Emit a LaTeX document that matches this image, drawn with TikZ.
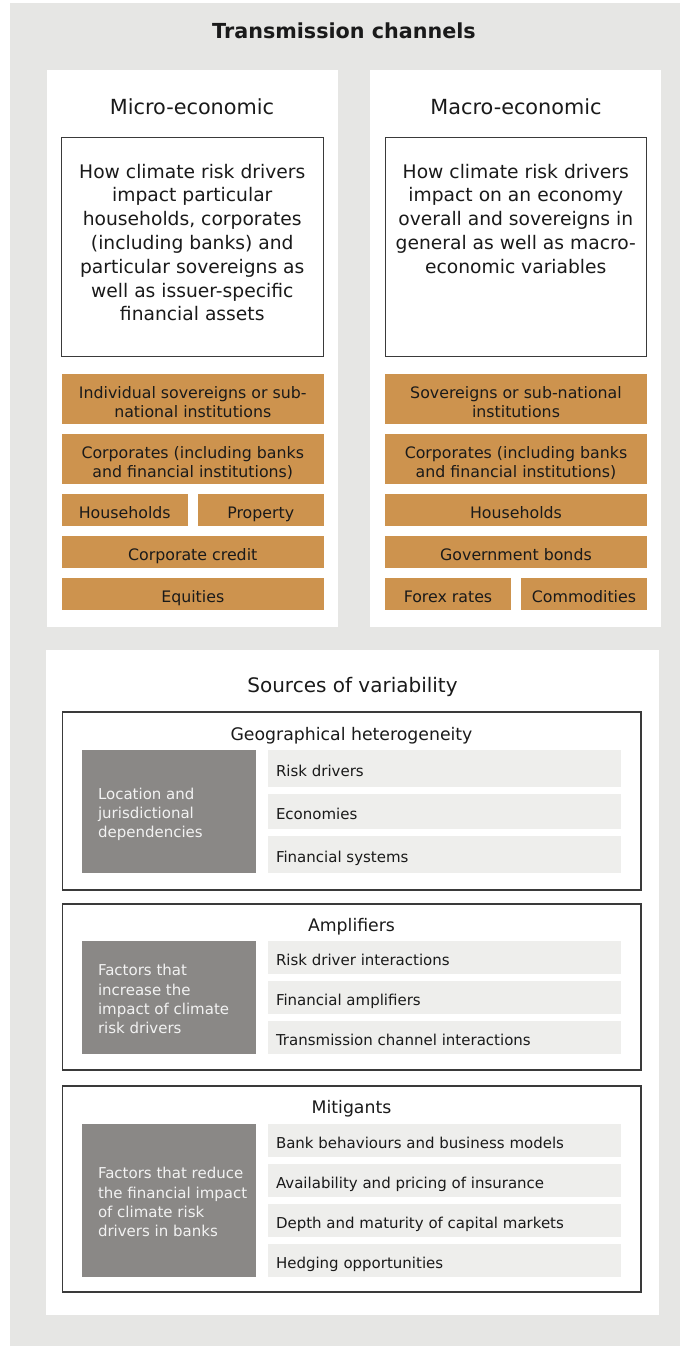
\documentclass[tikz,border=0pt]{standalone}
\usepackage{fontspec}
\setmainfont{DejaVu Sans}
\definecolor{bggray}{HTML}{E6E6E4}
\definecolor{ochre}{HTML}{CD934E}
\definecolor{darkbox}{HTML}{8A8886}
\definecolor{lightitem}{HTML}{EEEEEC}
\definecolor{border}{HTML}{3A3A3A}
\definecolor{txt}{HTML}{1A1A1A}
\definecolor{darktxt}{HTML}{F2F2F2}
% centred / left-aligned line stacks, baseline = last line
\newcommand\CL[2]{\vbox{\baselineskip=#1\relax\lineskiplimit=-\maxdimen\let\\\cr\halign{\hfil##\hfil\cr#2\crcr}}}
\newcommand\LLn[2]{\vbox{\baselineskip=#1\relax\lineskiplimit=-\maxdimen\let\\\cr\halign{##\hfil\cr#2\crcr}}}
\newcommand\fTitle{\fontsize{20.7pt}{24pt}\selectfont\bfseries}
\newcommand\fHead{\fontsize{20.8pt}{24pt}\selectfont}
\newcommand\fHeadB{\fontsize{20pt}{24pt}\selectfont}
\newcommand\fSub{\fontsize{17.3pt}{21pt}\selectfont}
\newcommand\fBody{\fontsize{18.7pt}{23.8pt}\selectfont}
\newcommand\fOch{\fontsize{15.8pt}{19pt}\selectfont}
\newcommand\fItem{\fontsize{15pt}{19.4pt}\selectfont}
\tikzset{
  every node/.style={inner sep=0pt, outer sep=0pt},
  bgbox/.style={fill=bggray, draw=none, rectangle},
  panel/.style={fill=white, draw=none, rectangle},
  titletext/.style={font=\fTitle, text=txt},
  headtext/.style={font=\fHead, text=txt},
  headtextb/.style={font=\fHeadB, text=txt},
  subtext/.style={font=\fSub, text=txt},
  tbox/.style={rectangle, draw=border, line width=1pt, fill=white, font=\fBody, text=txt, text depth=0pt},
  obox/.style={rectangle, fill=ochre, draw=none, font=\fOch, text=txt, text depth=0pt},
  gbox/.style={rectangle, draw=border, line width=1.1pt, fill=white},
  dbox/.style={rectangle, fill=darkbox, draw=none, font=\fItem, text=darktxt, text depth=0pt},
  ibox/.style={rectangle, fill=lightitem, draw=none, font=\fItem, text=txt, text depth=0pt, text height=16pt, minimum width=353.3pt},
}
\begin{document}
\begin{tikzpicture}[x=1pt,y=-1pt]
\useasboundingbox (0,0) rectangle (680,1346);
\fill[white] (0,0) rectangle (680,1346);
\node[bgbox, minimum width=670pt, minimum height=1343pt] (bg) at (345,674.5) {};
\node[titletext, anchor=base] (title) at (344,39) {Transmission channels};

% upper panels
\node[panel, minimum width=291pt, minimum height=557pt] (micro) at (192.5,348.5) {};
\node[panel, minimum width=291pt, minimum height=557pt] (macro) at (515.5,348.5) {};
\node[headtext, anchor=base] (microh) at (192,114.5) {Micro-economic};
\node[headtext, anchor=base] (macroh) at (516,114.5) {Macro-economic};
\node[tbox, minimum width=262.5pt, minimum height=219.5pt, text height=148.1pt] (microtxt) at (192.25,246.75)
  {\CL{23.8pt}{How climate risk drivers\\impact particular\\households, corporates\\(including banks) and\\particular sovereigns as\\well as issuer-specific\\financial assets}};
\node[tbox, minimum width=261.5pt, minimum height=219.5pt, text height=52.9pt] (macrotxt) at (515.75,246.75)
  {\CL{23.8pt}{How climate risk drivers\\impact on an economy\\overall and sovereigns in\\general as well as macro-\\economic variables}};

% ochre boxes, micro
\node[obox, minimum width=261.5pt, minimum height=50pt, text height=37pt] (o1) at (192.75,399)
  {\CL{19pt}{Individual sovereigns or sub-\\national institutions}};
\node[obox, minimum width=261.5pt, minimum height=50pt, text height=37pt] (o2) at (192.75,459)
  {\CL{19pt}{Corporates (including banks\\and financial institutions)}};
\node[obox, minimum width=125.5pt, minimum height=32pt, text height=17pt] (o3a) at (124.75,510) {Households};
\node[obox, minimum width=125.5pt, minimum height=32pt, text height=17pt] (o3b) at (260.75,510) {Property};
\node[obox, minimum width=261.5pt, minimum height=32pt, text height=17pt] (o4) at (192.75,552) {Corporate credit};
\node[obox, minimum width=261.5pt, minimum height=32pt, text height=17pt] (o5) at (192.75,594) {Equities};

% ochre boxes, macro
\node[obox, minimum width=262pt, minimum height=50pt, text height=37pt] (p1) at (516,399)
  {\CL{19pt}{Sovereigns or sub-national\\institutions}};
\node[obox, minimum width=262pt, minimum height=50pt, text height=37pt] (p2) at (516,459)
  {\CL{19pt}{Corporates (including banks\\and financial institutions)}};
\node[obox, minimum width=262pt, minimum height=32pt, text height=17pt] (p3) at (516,510) {Households};
\node[obox, minimum width=262pt, minimum height=32pt, text height=17pt] (p4) at (516,552) {Government bonds};
\node[obox, minimum width=126pt, minimum height=32pt, text height=17pt] (p5a) at (448,594) {Forex rates};
\node[obox, minimum width=126pt, minimum height=32pt, text height=17pt] (p5b) at (584,594) {Commodities};

% sources of variability
\node[panel, minimum width=613pt, minimum height=664.5pt] (src) at (352.5,982.25) {};
\node[headtextb, anchor=base] (srch) at (352.5,692) {Sources of variability};

% geographical heterogeneity
\node[gbox, minimum width=578.5pt, minimum height=178pt] (geo) at (351.75,801) {};
\node[subtext, anchor=base] (geoh) at (351.5,740) {Geographical heterogeneity};
\node[dbox, minimum width=173.5pt, minimum height=122.5pt, text height=53.3pt] (geod) at (168.75,811.25)
  {\makebox[141.5pt][l]{\LLn{19.4pt}{Location and\\jurisdictional\\dependencies}}};
\node[ibox, minimum height=36.5pt] (geo1) at (444.65,768.25) {\makebox[337.3pt][l]{Risk drivers}};
\node[ibox, minimum height=35pt] (geo2) at (444.65,811.5) {\makebox[337.3pt][l]{Economies}};
\node[ibox, minimum height=36.5pt] (geo3) at (444.65,854.25) {\makebox[337.3pt][l]{Financial systems}};

% amplifiers
\node[gbox, minimum width=578.5pt, minimum height=166pt] (amp) at (351.75,987) {};
\node[subtext, anchor=base] (amph) at (351.5,931) {Amplifiers};
\node[dbox, minimum width=173.5pt, minimum height=113pt, text height=72.7pt] (ampd) at (168.75,997.5)
  {\makebox[141.5pt][l]{\LLn{19.4pt}{Factors that\\increase the\\impact of climate\\risk drivers}}};
\node[ibox, minimum height=33pt] (amp1) at (444.65,957.5) {\makebox[337.3pt][l]{Risk driver interactions}};
\node[ibox, minimum height=33pt] (amp2) at (444.65,997.5) {\makebox[337.3pt][l]{Financial amplifiers}};
\node[ibox, minimum height=33pt] (amp3) at (444.65,1037.5) {\makebox[337.3pt][l]{Transmission channel interactions}};

% mitigants
\node[gbox, minimum width=578.5pt, minimum height=206pt] (mit) at (351.75,1189) {};
\node[subtext, anchor=base] (mith) at (351.5,1113) {Mitigants};
\node[dbox, minimum width=173.5pt, minimum height=153pt, text height=72.7pt] (mitd) at (168.75,1200.5)
  {\makebox[141.5pt][l]{\LLn{19.4pt}{Factors that reduce\\the financial impact\\of climate risk\\drivers in banks}}};
\node[ibox, minimum height=33pt] (mit1) at (444.65,1140) {\makebox[337.3pt][l]{Bank behaviours and business models}};
\node[ibox, minimum height=33pt] (mit2) at (444.65,1180.5) {\makebox[337.3pt][l]{Availability and pricing of insurance}};
\node[ibox, minimum height=33pt] (mit3) at (444.65,1220.5) {\makebox[337.3pt][l]{Depth and maturity of capital markets}};
\node[ibox, minimum height=33pt] (mit4) at (444.65,1260.5) {\makebox[337.3pt][l]{Hedging opportunities}};
\end{tikzpicture}
\end{document}
